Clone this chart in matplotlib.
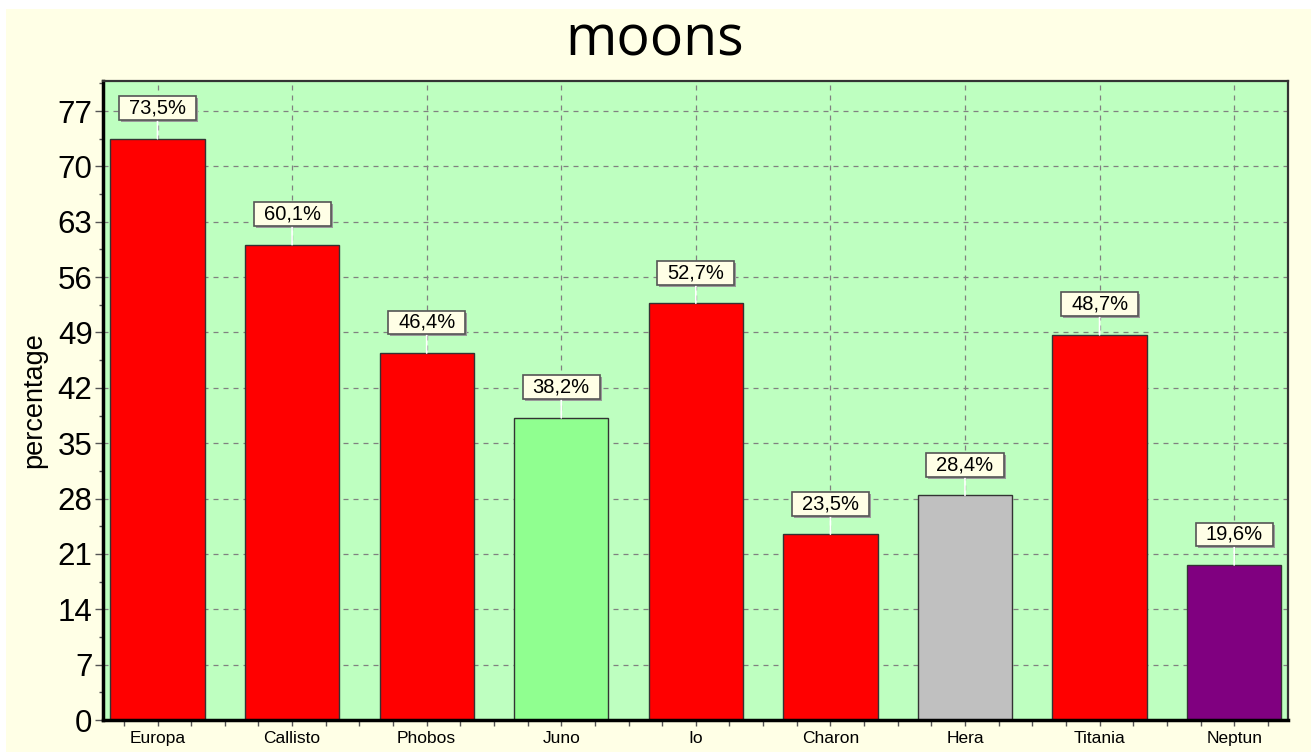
import matplotlib
matplotlib.use("Agg")
import matplotlib.pyplot as plt
from matplotlib.path import Path
from matplotlib.ticker import MultipleLocator
from matplotlib.transforms import offset_copy
from matplotlib.patches import Rectangle

categories = ["Europa", "Callisto", "Phobos", "Juno", "Io", "Charon", "Hera", "Titania", "Neptun"]
values = [73.5, 60.1, 46.4, 38.2, 52.7, 23.5, 28.4, 48.7, 19.6]
colors = ["#FF0000", "#FF0000", "#FF0000", "#90FF90", "#FF0000", "#FF0000", "#C0C0C0", "#FF0000", "#800080"]
y_ticks = [0, 7, 14, 21, 28, 35, 42, 49, 56, 63, 70, 77]
title = "moons"
y_label = "percentage"

plt.rcParams['font.family'] = ['Liberation Sans', 'DejaVu Sans']

W, H = 1311, 752
fig = plt.figure(figsize=(W / 100, H / 100), dpi=100)
fig.patch.set_facecolor("#FFFFE6")
# white border strip at top and left
fig.patches.append(Rectangle((0, 1 - 9 / H), 1, 9 / H, transform=fig.transFigure,
                             facecolor="white", edgecolor="none", zorder=0))
fig.patches.append(Rectangle((0, 0), 6 / W, 1, transform=fig.transFigure,
                             facecolor="white", edgecolor="none", zorder=0))

ax = fig.add_axes([103 / W, (H - 720) / H, (1288 - 103) / W, (720 - 81) / H])
ax.set_facecolor("#BEFFC0")

x = list(range(len(categories)))
ax.bar(x, values, width=0.7, color=colors, edgecolor="#333333", linewidth=1, zorder=2)

ax.set_xlim(-0.405, len(categories) - 1 + 0.40)
ax.set_ylim(0, 80.8)
ax.set_xticks(x)
ax.set_xticklabels(categories, fontsize=12.5)
ax.xaxis.set_minor_locator(MultipleLocator(0.25))
ax.set_yticks(y_ticks)
ax.set_yticklabels([str(t) for t in y_ticks], fontsize=22.5)
ax.yaxis.set_minor_locator(MultipleLocator(3.5))

ax.tick_params(axis='x', which='both', direction='out', length=4, width=1, color="#555555", pad=4)
ax.tick_params(axis='y', which='major', direction='out', length=6, width=1, color="#555555", pad=1.5)
ax.tick_params(axis='y', which='minor', direction='out', length=3, width=1, color="#555555")

ax.grid(True, which='major', color="#808080", linestyle=(0, (4, 4)), linewidth=0.9, zorder=1)
ax.set_axisbelow(True)

for s in ["left", "bottom"]:
    ax.spines[s].set_linewidth(2.5)
    ax.spines[s].set_color("black")
for s in ["top", "right"]:
    ax.spines[s].set_linewidth(1.6)
    ax.spines[s].set_color("#333333")

ax.set_ylabel(y_label, fontsize=19.5)
ax.yaxis.set_label_coords(-(103 - 47) / (1288 - 103), 0.5)


def wide_box(x0, y0, width, height, mutation_size):
    padx = 0.5 * mutation_size
    pady = 0.12 * mutation_size
    xa, ya = x0 - padx, y0 - pady
    xb, yb = x0 + width + padx, y0 + height + pady
    return Path([(xa, ya), (xb, ya), (xb, yb), (xa, yb), (xa, ya)],
                [Path.MOVETO, Path.LINETO, Path.LINETO, Path.LINETO, Path.CLOSEPOLY])


shadow_tr = offset_copy(ax.transData, fig=fig, x=2, y=-2, units='dots')
for xi, v in zip(x, values):
    lbl = f"{v:.1f}%".replace(".", ",")
    # shadow
    ax.annotate(lbl, xy=(xi, v), xycoords=shadow_tr, xytext=(0, 22), textcoords='offset points',
                ha='center', va='center', fontsize=14.5, color=(0, 0, 0, 0),
                bbox=dict(boxstyle=wide_box, fc="#9A9A9A", ec="none"), zorder=4,
                annotation_clip=False)
    ax.annotate(lbl, xy=(xi, v), xytext=(0, 22), textcoords='offset points',
                ha='center', va='center', fontsize=14.5, color="black",
                bbox=dict(boxstyle=wide_box, fc="#FFFFE6", ec="#555555", lw=1.2),
                arrowprops=dict(arrowstyle='-', color="white", lw=1.2, shrinkA=0, shrinkB=0),
                zorder=5, annotation_clip=False)

fig.text(655 / W, 1 - 55 / H, title, ha='center', va='baseline', fontsize=40,
         family=['Open Sans', 'DejaVu Sans'])

fig.savefig("out.png", dpi=100, facecolor=fig.get_facecolor())
